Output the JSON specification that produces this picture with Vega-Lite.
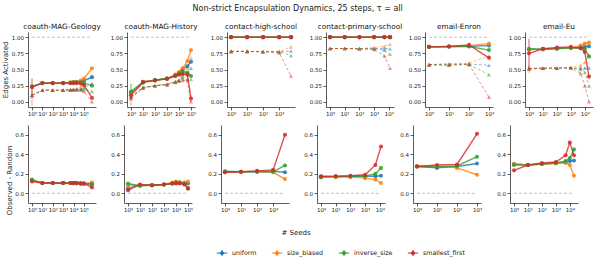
{
  "$schema": "https://vega.github.io/schema/vega-lite/v6.json",
  "padding": {"left": 2, "right": 2, "top": 4, "bottom": 2},
  "title": {"text": "Non-strict Encapsulation Dynamics, 25 steps, τ = all", "fontSize": 8, "font": "DejaVu Sans", "fontWeight": "normal", "color": "#222", "anchor": "middle", "offset": 10},
  "datasets": {
    "main": [
      {"dataset": "coauth-MAG-Geology", "strategy": "uniform", "seeds": 1, "observed": 0.23, "random": 0.10, "diff": 0.13},
      {"dataset": "coauth-MAG-Geology", "strategy": "uniform", "seeds": 10, "observed": 0.29, "random": 0.18, "diff": 0.105},
      {"dataset": "coauth-MAG-Geology", "strategy": "uniform", "seeds": 100, "observed": 0.29, "random": 0.18, "diff": 0.105},
      {"dataset": "coauth-MAG-Geology", "strategy": "uniform", "seeds": 1000, "observed": 0.29, "random": 0.18, "diff": 0.105},
      {"dataset": "coauth-MAG-Geology", "strategy": "uniform", "seeds": 5000, "observed": 0.295, "random": 0.185, "diff": 0.105},
      {"dataset": "coauth-MAG-Geology", "strategy": "uniform", "seeds": 10000, "observed": 0.30, "random": 0.19, "diff": 0.105},
      {"dataset": "coauth-MAG-Geology", "strategy": "uniform", "seeds": 20000, "observed": 0.30, "random": 0.19, "diff": 0.105},
      {"dataset": "coauth-MAG-Geology", "strategy": "uniform", "seeds": 50000, "observed": 0.31, "random": 0.20, "diff": 0.105},
      {"dataset": "coauth-MAG-Geology", "strategy": "uniform", "seeds": 100000, "observed": 0.33, "random": 0.22, "diff": 0.10},
      {"dataset": "coauth-MAG-Geology", "strategy": "uniform", "seeds": 600000, "observed": 0.38, "random": 0.28, "diff": 0.10},
      {"dataset": "coauth-MAG-Geology", "strategy": "size_biased", "seeds": 1, "observed": 0.23, "random": 0.10, "diff": 0.13},
      {"dataset": "coauth-MAG-Geology", "strategy": "size_biased", "seeds": 10, "observed": 0.29, "random": 0.18, "diff": 0.105},
      {"dataset": "coauth-MAG-Geology", "strategy": "size_biased", "seeds": 100, "observed": 0.29, "random": 0.18, "diff": 0.105},
      {"dataset": "coauth-MAG-Geology", "strategy": "size_biased", "seeds": 1000, "observed": 0.29, "random": 0.18, "diff": 0.105},
      {"dataset": "coauth-MAG-Geology", "strategy": "size_biased", "seeds": 5000, "observed": 0.30, "random": 0.19, "diff": 0.105},
      {"dataset": "coauth-MAG-Geology", "strategy": "size_biased", "seeds": 10000, "observed": 0.30, "random": 0.195, "diff": 0.10},
      {"dataset": "coauth-MAG-Geology", "strategy": "size_biased", "seeds": 20000, "observed": 0.31, "random": 0.205, "diff": 0.10},
      {"dataset": "coauth-MAG-Geology", "strategy": "size_biased", "seeds": 50000, "observed": 0.33, "random": 0.23, "diff": 0.095},
      {"dataset": "coauth-MAG-Geology", "strategy": "size_biased", "seeds": 100000, "observed": 0.36, "random": 0.265, "diff": 0.095},
      {"dataset": "coauth-MAG-Geology", "strategy": "size_biased", "seeds": 600000, "observed": 0.52, "random": 0.41, "diff": 0.11},
      {"dataset": "coauth-MAG-Geology", "strategy": "inverse_size", "seeds": 1, "observed": 0.24, "random": 0.10, "diff": 0.14},
      {"dataset": "coauth-MAG-Geology", "strategy": "inverse_size", "seeds": 10, "observed": 0.29, "random": 0.18, "diff": 0.105},
      {"dataset": "coauth-MAG-Geology", "strategy": "inverse_size", "seeds": 100, "observed": 0.29, "random": 0.18, "diff": 0.105},
      {"dataset": "coauth-MAG-Geology", "strategy": "inverse_size", "seeds": 1000, "observed": 0.29, "random": 0.18, "diff": 0.105},
      {"dataset": "coauth-MAG-Geology", "strategy": "inverse_size", "seeds": 5000, "observed": 0.295, "random": 0.185, "diff": 0.105},
      {"dataset": "coauth-MAG-Geology", "strategy": "inverse_size", "seeds": 10000, "observed": 0.30, "random": 0.19, "diff": 0.105},
      {"dataset": "coauth-MAG-Geology", "strategy": "inverse_size", "seeds": 20000, "observed": 0.30, "random": 0.19, "diff": 0.105},
      {"dataset": "coauth-MAG-Geology", "strategy": "inverse_size", "seeds": 50000, "observed": 0.30, "random": 0.195, "diff": 0.10},
      {"dataset": "coauth-MAG-Geology", "strategy": "inverse_size", "seeds": 100000, "observed": 0.29, "random": 0.19, "diff": 0.10},
      {"dataset": "coauth-MAG-Geology", "strategy": "inverse_size", "seeds": 600000, "observed": 0.25, "random": 0.16, "diff": 0.09},
      {"dataset": "coauth-MAG-Geology", "strategy": "smallest_first", "seeds": 1, "observed": 0.23, "random": 0.10, "diff": 0.12, "obs_lo": 0.10, "obs_hi": 0.36, "rnd_lo": -0.06, "rnd_hi": 0.22},
      {"dataset": "coauth-MAG-Geology", "strategy": "smallest_first", "seeds": 10, "observed": 0.29, "random": 0.18, "diff": 0.105},
      {"dataset": "coauth-MAG-Geology", "strategy": "smallest_first", "seeds": 100, "observed": 0.29, "random": 0.18, "diff": 0.105},
      {"dataset": "coauth-MAG-Geology", "strategy": "smallest_first", "seeds": 1000, "observed": 0.29, "random": 0.18, "diff": 0.105},
      {"dataset": "coauth-MAG-Geology", "strategy": "smallest_first", "seeds": 5000, "observed": 0.29, "random": 0.185, "diff": 0.105},
      {"dataset": "coauth-MAG-Geology", "strategy": "smallest_first", "seeds": 10000, "observed": 0.29, "random": 0.185, "diff": 0.105},
      {"dataset": "coauth-MAG-Geology", "strategy": "smallest_first", "seeds": 20000, "observed": 0.29, "random": 0.185, "diff": 0.105},
      {"dataset": "coauth-MAG-Geology", "strategy": "smallest_first", "seeds": 50000, "observed": 0.28, "random": 0.18, "diff": 0.10},
      {"dataset": "coauth-MAG-Geology", "strategy": "smallest_first", "seeds": 100000, "observed": 0.26, "random": 0.16, "diff": 0.10},
      {"dataset": "coauth-MAG-Geology", "strategy": "smallest_first", "seeds": 600000, "observed": 0.06, "random": 0.00, "diff": 0.06},

      {"dataset": "coauth-MAG-History", "strategy": "uniform", "seeds": 1, "observed": 0.14, "random": 0.08, "diff": 0.05},
      {"dataset": "coauth-MAG-History", "strategy": "uniform", "seeds": 10, "observed": 0.31, "random": 0.22, "diff": 0.085},
      {"dataset": "coauth-MAG-History", "strategy": "uniform", "seeds": 100, "observed": 0.335, "random": 0.25, "diff": 0.085},
      {"dataset": "coauth-MAG-History", "strategy": "uniform", "seeds": 1000, "observed": 0.36, "random": 0.27, "diff": 0.09},
      {"dataset": "coauth-MAG-History", "strategy": "uniform", "seeds": 5000, "observed": 0.41, "random": 0.31, "diff": 0.10},
      {"dataset": "coauth-MAG-History", "strategy": "uniform", "seeds": 10000, "observed": 0.44, "random": 0.33, "diff": 0.11},
      {"dataset": "coauth-MAG-History", "strategy": "uniform", "seeds": 20000, "observed": 0.50, "random": 0.39, "diff": 0.11},
      {"dataset": "coauth-MAG-History", "strategy": "uniform", "seeds": 50000, "observed": 0.55, "random": 0.45, "diff": 0.10},
      {"dataset": "coauth-MAG-History", "strategy": "uniform", "seeds": 100000, "observed": 0.62, "random": 0.52, "diff": 0.10},
      {"dataset": "coauth-MAG-History", "strategy": "size_biased", "seeds": 1, "observed": 0.12, "random": 0.04, "diff": 0.08},
      {"dataset": "coauth-MAG-History", "strategy": "size_biased", "seeds": 10, "observed": 0.31, "random": 0.22, "diff": 0.085},
      {"dataset": "coauth-MAG-History", "strategy": "size_biased", "seeds": 100, "observed": 0.335, "random": 0.25, "diff": 0.085},
      {"dataset": "coauth-MAG-History", "strategy": "size_biased", "seeds": 1000, "observed": 0.36, "random": 0.27, "diff": 0.09},
      {"dataset": "coauth-MAG-History", "strategy": "size_biased", "seeds": 5000, "observed": 0.42, "random": 0.31, "diff": 0.11},
      {"dataset": "coauth-MAG-History", "strategy": "size_biased", "seeds": 10000, "observed": 0.46, "random": 0.34, "diff": 0.12},
      {"dataset": "coauth-MAG-History", "strategy": "size_biased", "seeds": 20000, "observed": 0.52, "random": 0.41, "diff": 0.11},
      {"dataset": "coauth-MAG-History", "strategy": "size_biased", "seeds": 50000, "observed": 0.63, "random": 0.52, "diff": 0.11},
      {"dataset": "coauth-MAG-History", "strategy": "size_biased", "seeds": 100000, "observed": 0.80, "random": 0.68, "diff": 0.12},
      {"dataset": "coauth-MAG-History", "strategy": "inverse_size", "seeds": 1, "observed": 0.16, "random": 0.06, "diff": 0.10, "obs_lo": 0.04, "obs_hi": 0.28},
      {"dataset": "coauth-MAG-History", "strategy": "inverse_size", "seeds": 10, "observed": 0.30, "random": 0.225, "diff": 0.075},
      {"dataset": "coauth-MAG-History", "strategy": "inverse_size", "seeds": 100, "observed": 0.335, "random": 0.25, "diff": 0.085},
      {"dataset": "coauth-MAG-History", "strategy": "inverse_size", "seeds": 1000, "observed": 0.36, "random": 0.27, "diff": 0.09},
      {"dataset": "coauth-MAG-History", "strategy": "inverse_size", "seeds": 5000, "observed": 0.41, "random": 0.31, "diff": 0.10},
      {"dataset": "coauth-MAG-History", "strategy": "inverse_size", "seeds": 10000, "observed": 0.44, "random": 0.33, "diff": 0.11},
      {"dataset": "coauth-MAG-History", "strategy": "inverse_size", "seeds": 20000, "observed": 0.47, "random": 0.36, "diff": 0.11},
      {"dataset": "coauth-MAG-History", "strategy": "inverse_size", "seeds": 50000, "observed": 0.45, "random": 0.35, "diff": 0.10},
      {"dataset": "coauth-MAG-History", "strategy": "inverse_size", "seeds": 100000, "observed": 0.40, "random": 0.35, "diff": 0.05},
      {"dataset": "coauth-MAG-History", "strategy": "smallest_first", "seeds": 1, "observed": 0.10, "random": 0.07, "diff": 0.03, "rnd_lo": -0.06, "rnd_hi": 0.17},
      {"dataset": "coauth-MAG-History", "strategy": "smallest_first", "seeds": 10, "observed": 0.30, "random": 0.21, "diff": 0.09},
      {"dataset": "coauth-MAG-History", "strategy": "smallest_first", "seeds": 100, "observed": 0.33, "random": 0.25, "diff": 0.08},
      {"dataset": "coauth-MAG-History", "strategy": "smallest_first", "seeds": 1000, "observed": 0.355, "random": 0.265, "diff": 0.09},
      {"dataset": "coauth-MAG-History", "strategy": "smallest_first", "seeds": 5000, "observed": 0.40, "random": 0.30, "diff": 0.10},
      {"dataset": "coauth-MAG-History", "strategy": "smallest_first", "seeds": 10000, "observed": 0.42, "random": 0.32, "diff": 0.10},
      {"dataset": "coauth-MAG-History", "strategy": "smallest_first", "seeds": 20000, "observed": 0.43, "random": 0.33, "diff": 0.10},
      {"dataset": "coauth-MAG-History", "strategy": "smallest_first", "seeds": 50000, "observed": 0.42, "random": 0.33, "diff": 0.09},
      {"dataset": "coauth-MAG-History", "strategy": "smallest_first", "seeds": 100000, "observed": 0.05, "random": 0.00, "diff": 0.05},

      {"dataset": "contact-high-school", "strategy": "uniform", "seeds": 1, "observed": 1.0, "random": 0.78, "diff": 0.225},
      {"dataset": "contact-high-school", "strategy": "uniform", "seeds": 10, "observed": 1.0, "random": 0.78, "diff": 0.22},
      {"dataset": "contact-high-school", "strategy": "uniform", "seeds": 100, "observed": 1.0, "random": 0.775, "diff": 0.22},
      {"dataset": "contact-high-school", "strategy": "uniform", "seeds": 1000, "observed": 1.0, "random": 0.775, "diff": 0.225},
      {"dataset": "contact-high-school", "strategy": "uniform", "seeds": 5500, "observed": 1.0, "random": 0.785, "diff": 0.215},
      {"dataset": "contact-high-school", "strategy": "size_biased", "seeds": 1, "observed": 1.0, "random": 0.78, "diff": 0.215},
      {"dataset": "contact-high-school", "strategy": "size_biased", "seeds": 10, "observed": 1.0, "random": 0.78, "diff": 0.22},
      {"dataset": "contact-high-school", "strategy": "size_biased", "seeds": 100, "observed": 1.0, "random": 0.775, "diff": 0.225},
      {"dataset": "contact-high-school", "strategy": "size_biased", "seeds": 1000, "observed": 1.0, "random": 0.78, "diff": 0.215},
      {"dataset": "contact-high-school", "strategy": "size_biased", "seeds": 5500, "observed": 1.0, "random": 0.85, "diff": 0.145},
      {"dataset": "contact-high-school", "strategy": "inverse_size", "seeds": 1, "observed": 1.0, "random": 0.78, "diff": 0.22},
      {"dataset": "contact-high-school", "strategy": "inverse_size", "seeds": 10, "observed": 1.0, "random": 0.78, "diff": 0.22},
      {"dataset": "contact-high-school", "strategy": "inverse_size", "seeds": 100, "observed": 1.0, "random": 0.775, "diff": 0.22},
      {"dataset": "contact-high-school", "strategy": "inverse_size", "seeds": 1000, "observed": 1.0, "random": 0.775, "diff": 0.22},
      {"dataset": "contact-high-school", "strategy": "inverse_size", "seeds": 5500, "observed": 1.0, "random": 0.715, "diff": 0.285},
      {"dataset": "contact-high-school", "strategy": "smallest_first", "seeds": 1, "observed": 1.0, "random": 0.78, "diff": 0.215},
      {"dataset": "contact-high-school", "strategy": "smallest_first", "seeds": 10, "observed": 1.0, "random": 0.78, "diff": 0.22},
      {"dataset": "contact-high-school", "strategy": "smallest_first", "seeds": 100, "observed": 1.0, "random": 0.775, "diff": 0.23},
      {"dataset": "contact-high-school", "strategy": "smallest_first", "seeds": 1000, "observed": 1.0, "random": 0.76, "diff": 0.24},
      {"dataset": "contact-high-school", "strategy": "smallest_first", "seeds": 5500, "observed": 1.0, "random": 0.40, "diff": 0.60},

      {"dataset": "contact-primary-school", "strategy": "uniform", "seeds": 1, "observed": 1.0, "random": 0.825, "diff": 0.17},
      {"dataset": "contact-primary-school", "strategy": "uniform", "seeds": 10, "observed": 1.0, "random": 0.825, "diff": 0.17},
      {"dataset": "contact-primary-school", "strategy": "uniform", "seeds": 100, "observed": 1.0, "random": 0.82, "diff": 0.175},
      {"dataset": "contact-primary-school", "strategy": "uniform", "seeds": 1000, "observed": 1.0, "random": 0.825, "diff": 0.175},
      {"dataset": "contact-primary-school", "strategy": "uniform", "seeds": 5000, "observed": 1.0, "random": 0.825, "diff": 0.175},
      {"dataset": "contact-primary-school", "strategy": "uniform", "seeds": 12000, "observed": 1.0, "random": 0.82, "diff": 0.18},
      {"dataset": "contact-primary-school", "strategy": "size_biased", "seeds": 1, "observed": 1.0, "random": 0.825, "diff": 0.165},
      {"dataset": "contact-primary-school", "strategy": "size_biased", "seeds": 10, "observed": 1.0, "random": 0.825, "diff": 0.17},
      {"dataset": "contact-primary-school", "strategy": "size_biased", "seeds": 100, "observed": 1.0, "random": 0.825, "diff": 0.165},
      {"dataset": "contact-primary-school", "strategy": "size_biased", "seeds": 1000, "observed": 1.0, "random": 0.84, "diff": 0.155},
      {"dataset": "contact-primary-school", "strategy": "size_biased", "seeds": 5000, "observed": 1.0, "random": 0.86, "diff": 0.14},
      {"dataset": "contact-primary-school", "strategy": "size_biased", "seeds": 12000, "observed": 1.0, "random": 0.89, "diff": 0.105},
      {"dataset": "contact-primary-school", "strategy": "inverse_size", "seeds": 1, "observed": 1.0, "random": 0.825, "diff": 0.165},
      {"dataset": "contact-primary-school", "strategy": "inverse_size", "seeds": 10, "observed": 1.0, "random": 0.825, "diff": 0.17},
      {"dataset": "contact-primary-school", "strategy": "inverse_size", "seeds": 100, "observed": 1.0, "random": 0.82, "diff": 0.175},
      {"dataset": "contact-primary-school", "strategy": "inverse_size", "seeds": 1000, "observed": 1.0, "random": 0.82, "diff": 0.175},
      {"dataset": "contact-primary-school", "strategy": "inverse_size", "seeds": 5000, "observed": 1.0, "random": 0.80, "diff": 0.20},
      {"dataset": "contact-primary-school", "strategy": "inverse_size", "seeds": 12000, "observed": 1.0, "random": 0.735, "diff": 0.26},
      {"dataset": "contact-primary-school", "strategy": "smallest_first", "seeds": 1, "observed": 1.0, "random": 0.825, "diff": 0.175},
      {"dataset": "contact-primary-school", "strategy": "smallest_first", "seeds": 10, "observed": 1.0, "random": 0.825, "diff": 0.175},
      {"dataset": "contact-primary-school", "strategy": "smallest_first", "seeds": 100, "observed": 1.0, "random": 0.82, "diff": 0.18},
      {"dataset": "contact-primary-school", "strategy": "smallest_first", "seeds": 1000, "observed": 1.0, "random": 0.81, "diff": 0.19},
      {"dataset": "contact-primary-school", "strategy": "smallest_first", "seeds": 5000, "observed": 1.0, "random": 0.71, "diff": 0.29},
      {"dataset": "contact-primary-school", "strategy": "smallest_first", "seeds": 12000, "observed": 1.0, "random": 0.52, "diff": 0.48},

      {"dataset": "email-Enron", "strategy": "uniform", "seeds": 1, "observed": 0.85, "random": 0.575, "diff": 0.275},
      {"dataset": "email-Enron", "strategy": "uniform", "seeds": 10, "observed": 0.855, "random": 0.59, "diff": 0.26},
      {"dataset": "email-Enron", "strategy": "uniform", "seeds": 100, "observed": 0.86, "random": 0.585, "diff": 0.275},
      {"dataset": "email-Enron", "strategy": "uniform", "seeds": 1000, "observed": 0.87, "random": 0.565, "diff": 0.305},
      {"dataset": "email-Enron", "strategy": "size_biased", "seeds": 1, "observed": 0.85, "random": 0.57, "diff": 0.28},
      {"dataset": "email-Enron", "strategy": "size_biased", "seeds": 10, "observed": 0.855, "random": 0.57, "diff": 0.28},
      {"dataset": "email-Enron", "strategy": "size_biased", "seeds": 100, "observed": 0.87, "random": 0.60, "diff": 0.26},
      {"dataset": "email-Enron", "strategy": "size_biased", "seeds": 1000, "observed": 0.90, "random": 0.71, "diff": 0.19},
      {"dataset": "email-Enron", "strategy": "inverse_size", "seeds": 1, "observed": 0.85, "random": 0.575, "diff": 0.275},
      {"dataset": "email-Enron", "strategy": "inverse_size", "seeds": 10, "observed": 0.855, "random": 0.575, "diff": 0.27},
      {"dataset": "email-Enron", "strategy": "inverse_size", "seeds": 100, "observed": 0.855, "random": 0.575, "diff": 0.28},
      {"dataset": "email-Enron", "strategy": "inverse_size", "seeds": 1000, "observed": 0.80, "random": 0.42, "diff": 0.375},
      {"dataset": "email-Enron", "strategy": "smallest_first", "seeds": 1, "observed": 0.85, "random": 0.575, "diff": 0.275},
      {"dataset": "email-Enron", "strategy": "smallest_first", "seeds": 10, "observed": 0.855, "random": 0.565, "diff": 0.29},
      {"dataset": "email-Enron", "strategy": "smallest_first", "seeds": 100, "observed": 0.88, "random": 0.58, "diff": 0.295},
      {"dataset": "email-Enron", "strategy": "smallest_first", "seeds": 1000, "observed": 0.68, "random": 0.07, "diff": 0.61},

      {"dataset": "email-Eu", "strategy": "uniform", "seeds": 1, "observed": 0.81, "random": 0.51, "diff": 0.30},
      {"dataset": "email-Eu", "strategy": "uniform", "seeds": 10, "observed": 0.815, "random": 0.52, "diff": 0.29},
      {"dataset": "email-Eu", "strategy": "uniform", "seeds": 100, "observed": 0.825, "random": 0.52, "diff": 0.30},
      {"dataset": "email-Eu", "strategy": "uniform", "seeds": 1000, "observed": 0.835, "random": 0.525, "diff": 0.31},
      {"dataset": "email-Eu", "strategy": "uniform", "seeds": 5000, "observed": 0.84, "random": 0.52, "diff": 0.32},
      {"dataset": "email-Eu", "strategy": "uniform", "seeds": 10000, "observed": 0.85, "random": 0.52, "diff": 0.33},
      {"dataset": "email-Eu", "strategy": "uniform", "seeds": 20000, "observed": 0.86, "random": 0.525, "diff": 0.335},
      {"dataset": "email-Eu", "strategy": "size_biased", "seeds": 1, "observed": 0.81, "random": 0.50, "diff": 0.30},
      {"dataset": "email-Eu", "strategy": "size_biased", "seeds": 10, "observed": 0.815, "random": 0.52, "diff": 0.29},
      {"dataset": "email-Eu", "strategy": "size_biased", "seeds": 100, "observed": 0.825, "random": 0.52, "diff": 0.30},
      {"dataset": "email-Eu", "strategy": "size_biased", "seeds": 1000, "observed": 0.835, "random": 0.53, "diff": 0.305},
      {"dataset": "email-Eu", "strategy": "size_biased", "seeds": 5000, "observed": 0.87, "random": 0.56, "diff": 0.31},
      {"dataset": "email-Eu", "strategy": "size_biased", "seeds": 10000, "observed": 0.90, "random": 0.61, "diff": 0.29},
      {"dataset": "email-Eu", "strategy": "size_biased", "seeds": 20000, "observed": 0.915, "random": 0.73, "diff": 0.18},
      {"dataset": "email-Eu", "strategy": "inverse_size", "seeds": 1, "observed": 0.82, "random": 0.52, "diff": 0.29},
      {"dataset": "email-Eu", "strategy": "inverse_size", "seeds": 10, "observed": 0.815, "random": 0.52, "diff": 0.29},
      {"dataset": "email-Eu", "strategy": "inverse_size", "seeds": 100, "observed": 0.82, "random": 0.52, "diff": 0.30},
      {"dataset": "email-Eu", "strategy": "inverse_size", "seeds": 1000, "observed": 0.835, "random": 0.525, "diff": 0.31},
      {"dataset": "email-Eu", "strategy": "inverse_size", "seeds": 5000, "observed": 0.83, "random": 0.50, "diff": 0.33},
      {"dataset": "email-Eu", "strategy": "inverse_size", "seeds": 10000, "observed": 0.82, "random": 0.455, "diff": 0.36},
      {"dataset": "email-Eu", "strategy": "inverse_size", "seeds": 20000, "observed": 0.70, "random": 0.245, "diff": 0.45},
      {"dataset": "email-Eu", "strategy": "smallest_first", "seeds": 1, "observed": 0.75, "random": 0.515, "diff": 0.235, "obs_lo": 0.50, "obs_hi": 0.97, "rnd_lo": 0.45, "rnd_hi": 0.57},
      {"dataset": "email-Eu", "strategy": "smallest_first", "seeds": 10, "observed": 0.82, "random": 0.52, "diff": 0.29},
      {"dataset": "email-Eu", "strategy": "smallest_first", "seeds": 100, "observed": 0.84, "random": 0.525, "diff": 0.31},
      {"dataset": "email-Eu", "strategy": "smallest_first", "seeds": 1000, "observed": 0.85, "random": 0.53, "diff": 0.32},
      {"dataset": "email-Eu", "strategy": "smallest_first", "seeds": 5000, "observed": 0.83, "random": 0.44, "diff": 0.39},
      {"dataset": "email-Eu", "strategy": "smallest_first", "seeds": 10000, "observed": 0.77, "random": 0.25, "diff": 0.52},
      {"dataset": "email-Eu", "strategy": "smallest_first", "seeds": 20000, "observed": 0.39, "random": 0.00, "diff": 0.39}
    ]
  },
  "vconcat": [
    {
      "data": {"name": "main"},
      "title": {"text": "Edges Activated", "orient": "left", "anchor": "middle", "fontSize": 7, "fontWeight": "normal", "color": "#222", "offset": 2},
      "facet": {
        "column": {"field": "dataset", "type": "nominal", "title": null,
          "sort": ["coauth-MAG-Geology", "coauth-MAG-History", "contact-high-school", "contact-primary-school", "email-Enron", "email-Eu"],
          "header": {"labelFontSize": 7.3, "labelFont": "DejaVu Sans", "labelColor": "#111", "labelPadding": 2}}
      },
      "spacing": {"column": 14},
      "resolve": {"scale": {"x": "independent"}, "axis": {"y": "independent"}},
      "spec": {
        "width": 68,
        "height": 75,
        "encoding": {
          "x": {"field": "seeds", "type": "quantitative",
            "scale": {"type": "log", "nice": false, "padding": 4},
            "axis": {"values": [1, 10, 100, 1000, 10000, 100000], "tickCount": 10, "title": null,
              "labelExpr": "'10' + ['⁰','¹','²','³','⁴','⁵','⁶'][round(log(datum.value)/LN10)]"}}
        },
        "layer": [
          {
            "mark": {"type": "rule", "color": "#bbbbbb", "strokeDash": [3, 2], "strokeWidth": 0.9},
            "encoding": {
              "x": {"aggregate": "min", "field": "seeds", "type": "quantitative"},
              "x2": {"aggregate": "max", "field": "seeds"},
              "y": {"datum": 1.0, "type": "quantitative",
                "scale": {"domain": [-0.08, 1.08], "nice": false, "zero": false},
                "axis": {"title": null, "values": [0, 0.25, 0.5, 0.75, 1.0], "tickCount": 10, "format": ".2f"}}
            }
          },
          {
            "transform": [{"filter": "isValid(datum.rnd_lo)"}],
            "mark": {"type": "rule", "strokeWidth": 1, "opacity": 0.45},
            "encoding": {
              "y": {"field": "rnd_lo", "type": "quantitative"},
              "y2": {"field": "rnd_hi"},
              "color": {"field": "strategy", "type": "nominal"}
            }
          },
          {
            "transform": [{"filter": "isValid(datum.obs_lo)"}],
            "mark": {"type": "rule", "strokeWidth": 1.4, "opacity": 0.55},
            "encoding": {
              "y": {"field": "obs_lo", "type": "quantitative"},
              "y2": {"field": "obs_hi"},
              "color": {"field": "strategy", "type": "nominal"}
            }
          },
          {
            "mark": {"type": "line", "strokeDash": [3, 2], "strokeWidth": 1, "opacity": 0.5},
            "encoding": {
              "y": {"field": "random", "type": "quantitative"},
              "color": {"field": "strategy", "type": "nominal"}
            }
          },
          {
            "mark": {"type": "point", "shape": "triangle-up", "filled": true, "size": 17, "opacity": 0.5},
            "encoding": {
              "y": {"field": "random", "type": "quantitative"},
              "color": {"field": "strategy", "type": "nominal"}
            }
          },
          {
            "mark": {"type": "line", "strokeWidth": 1.4, "opacity": 0.8},
            "encoding": {
              "y": {"field": "observed", "type": "quantitative"},
              "color": {"field": "strategy", "type": "nominal"}
            }
          },
          {
            "mark": {"type": "point", "shape": "circle", "filled": true, "size": 17, "opacity": 0.85},
            "encoding": {
              "y": {"field": "observed", "type": "quantitative"},
              "color": {"field": "strategy", "type": "nominal"}
            }
          }
        ]
      }
    },
    {
      "data": {"name": "main"},
      "title": {"text": "Observed - Random", "orient": "left", "anchor": "middle", "fontSize": 7, "fontWeight": "normal", "color": "#222", "offset": 2},
      "facet": {
        "column": {"field": "dataset", "type": "nominal", "title": "# Seeds",
          "sort": ["coauth-MAG-Geology", "coauth-MAG-History", "contact-high-school", "contact-primary-school", "email-Enron", "email-Eu"],
          "header": {"labels": false, "titleOrient": "bottom", "titleFontSize": 7, "titleFontWeight": "normal", "titleFont": "DejaVu Sans", "titleColor": "#222", "titlePadding": 6}}
      },
      "spacing": {"column": 14},
      "resolve": {"scale": {"x": "independent"}, "axis": {"y": "independent"}},
      "spec": {
        "width": 68,
        "height": 78,
        "encoding": {
          "x": {"field": "seeds", "type": "quantitative",
            "scale": {"type": "log", "nice": false, "padding": 4},
            "axis": {"values": [1, 10, 100, 1000, 10000, 100000], "tickCount": 10, "title": null,
              "labelExpr": "'10' + ['⁰','¹','²','³','⁴','⁵','⁶'][round(log(datum.value)/LN10)]"}}
        },
        "layer": [
          {
            "mark": {"type": "rule", "color": "#bbbbbb", "strokeDash": [3, 2], "strokeWidth": 0.9},
            "encoding": {
              "x": {"aggregate": "min", "field": "seeds", "type": "quantitative"},
              "x2": {"aggregate": "max", "field": "seeds"},
              "y": {"datum": 0, "type": "quantitative",
                "scale": {"domain": [-0.1, 0.7], "nice": false, "zero": false},
                "axis": {"title": null, "values": [0, 0.2, 0.4, 0.6], "tickCount": 10, "format": ".1f"}}
            }
          },
          {
            "mark": {"type": "line", "strokeWidth": 1.4, "opacity": 0.8},
            "encoding": {
              "y": {"field": "diff", "type": "quantitative"},
              "color": {"field": "strategy", "type": "nominal"}
            }
          },
          {
            "mark": {"type": "point", "shape": "circle", "filled": true, "size": 17, "opacity": 0.85},
            "encoding": {
              "y": {"field": "diff", "type": "quantitative"},
              "color": {"field": "strategy", "type": "nominal",
                "scale": {"domain": ["uniform", "size_biased", "inverse_size", "smallest_first"], "range": ["#1f77b4", "#ff7f0e", "#2ca02c", "#d62728"]},
                "legend": {"title": null, "orient": "none", "legendX": 188, "legendY": 215, "direction": "horizontal",
                  "symbolType": "M-1,0H1M0,-0.55V0.55M-0.32,0A0.32,0.32 0 1,1 0.32,0A0.32,0.32 0 1,1 -0.32,0Z",
                  "symbolSize": 110, "symbolStrokeWidth": 1, "symbolOpacity": 1,
                  "labelFontSize": 6.3, "labelFont": "DejaVu Sans", "labelColor": "#222", "columnPadding": 12,
                  "encode": {"symbols": {"update": {"stroke": {"scale": "color", "field": "value"}, "fill": {"scale": "color", "field": "value"}, "strokeDash": {"value": []}, "opacity": {"value": 1}}}}}}
            }
          }
        ]
      }
    }
  ],
  "spacing": 8,
  "config": {
    "font": "DejaVu Sans",
    "view": {"stroke": null},
    "axis": {"grid": false, "domainColor": "#333", "domainWidth": 0.8, "tickColor": "#333", "tickWidth": 0.8, "tickSize": 3, "labelFontSize": 5.5, "labelFont": "DejaVu Sans", "labelColor": "#222", "labelPadding": 1.5, "labelOverlap": false, "labelFlush": false}
  }
}
